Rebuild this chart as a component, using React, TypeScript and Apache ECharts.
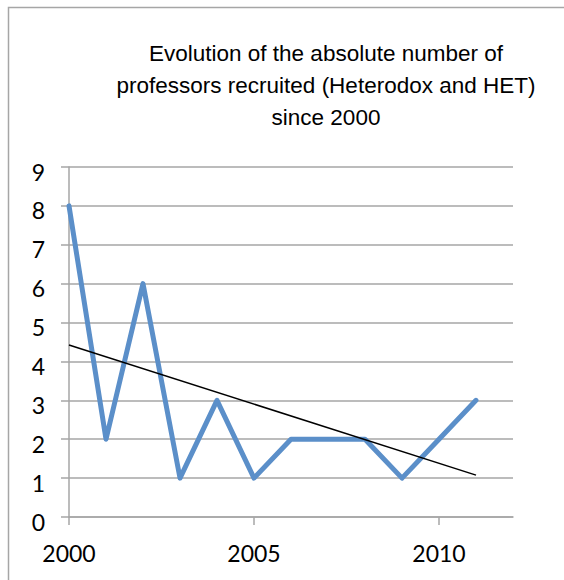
import { useEffect, useRef } from "react";
import * as echarts from "echarts";

// Professors recruited per year (Heterodox and HET)
const years = [2000, 2001, 2002, 2003, 2004, 2005, 2006, 2007, 2008, 2009, 2010, 2011];
const professors = [8, 2, 6, 1, 3, 1, 2, 2, 2, 1, 2, 3];
const yearTicks = [2000, 2005, 2010];
const titleLines = [
  "Evolution of the absolute number of",
  "professors recruited (Heterodox and HET)",
  "since 2000",
];

// Least-squares linear trend over the recruited counts, returned as its two end points
function linearTrend(xs: number[], ys: number[]): number[][] {
  const n = xs.length;
  const mx = xs.reduce((s, v) => s + v, 0) / n;
  const my = ys.reduce((s, v) => s + v, 0) / n;
  let sxy = 0;
  let sxx = 0;
  for (let i = 0; i < n; i++) {
    sxy += (xs[i] - mx) * (ys[i] - my);
    sxx += (xs[i] - mx) * (xs[i] - mx);
  }
  const slope = sxy / sxx;
  const at = (x: number) => my + slope * (x - mx);
  return [
    [xs[0], at(xs[0])],
    [xs[n - 1], at(xs[n - 1])],
  ];
}

const AXIS_GRAY = "#a6a6a6";
const LABEL_FONT = "Lato, 'Open Sans', sans-serif";

export default function App() {
  const ref = useRef<HTMLDivElement>(null);

  useEffect(() => {
    if (!ref.current) return;
    const chart = echarts.init(ref.current, null, { renderer: "svg" });

    chart.setOption({
      animation: false,
      backgroundColor: "#ffffff",
      grid: { left: 69, top: 167, width: 444, height: 350, containLabel: false },
      xAxis: {
        type: "value",
        min: 2000,
        max: 2012,
        interval: 5,
        axisLine: { show: true, lineStyle: { color: AXIS_GRAY, width: 1.5 } },
        axisTick: {
          show: true,
          length: 8,
          customValues: yearTicks,
          lineStyle: { color: AXIS_GRAY, width: 1.5 },
        },
        axisLabel: {
          customValues: yearTicks,
          margin: 24,
          color: "#000",
          fontSize: 23,
          fontFamily: LABEL_FONT,
          formatter: (v: number) => String(v),
        },
        splitLine: { show: false },
      },
      yAxis: {
        type: "value",
        min: 0,
        max: 9,
        interval: 1,
        axisLine: { show: true, lineStyle: { color: AXIS_GRAY, width: 1.5 } },
        axisTick: { show: true, length: 8, lineStyle: { color: AXIS_GRAY, width: 1.5 } },
        axisLabel: {
          margin: 24,
          color: "#000",
          fontSize: 23,
          fontFamily: LABEL_FONT,
          // labels sit slightly below their grid lines
          verticalAlign: "top",
          lineHeight: 9,
        },
        splitLine: { show: true, lineStyle: { color: AXIS_GRAY, width: 1.5 } },
      },
      series: [
        {
          type: "line",
          data: years.map((y, i) => [y, professors[i]]),
          showSymbol: false,
          symbol: "none",
          clip: false,
          lineStyle: { color: "#5b8fc9", width: 5, join: "round", cap: "round" },
          z: 2,
        },
        {
          type: "line",
          data: linearTrend(years, professors),
          showSymbol: false,
          symbol: "none",
          lineStyle: { color: "#000", width: 1.5 },
          silent: true,
          z: 3,
        },
      ],
      graphic: [
        {
          type: "rect",
          silent: true,
          shape: { x: 8.5, y: 7.5, width: 700, height: 700 },
          style: { fill: "none", stroke: AXIS_GRAY, lineWidth: 1.5 },
        },
        {
          type: "text",
          silent: true,
          x: 326,
          y: 37,
          style: {
            text: titleLines.join("\n"),
            fill: "#000",
            fontSize: 22.5,
            lineHeight: 32,
            fontFamily: "'Liberation Sans', Arial, sans-serif",
            align: "center",
            verticalAlign: "top",
          },
        },
      ],
    });

    return () => chart.dispose();
  }, []);

  return (
    <div
      ref={ref}
      style={{ position: "absolute", left: 0, top: 0, width: 564, height: 580 }}
    />
  );
}
